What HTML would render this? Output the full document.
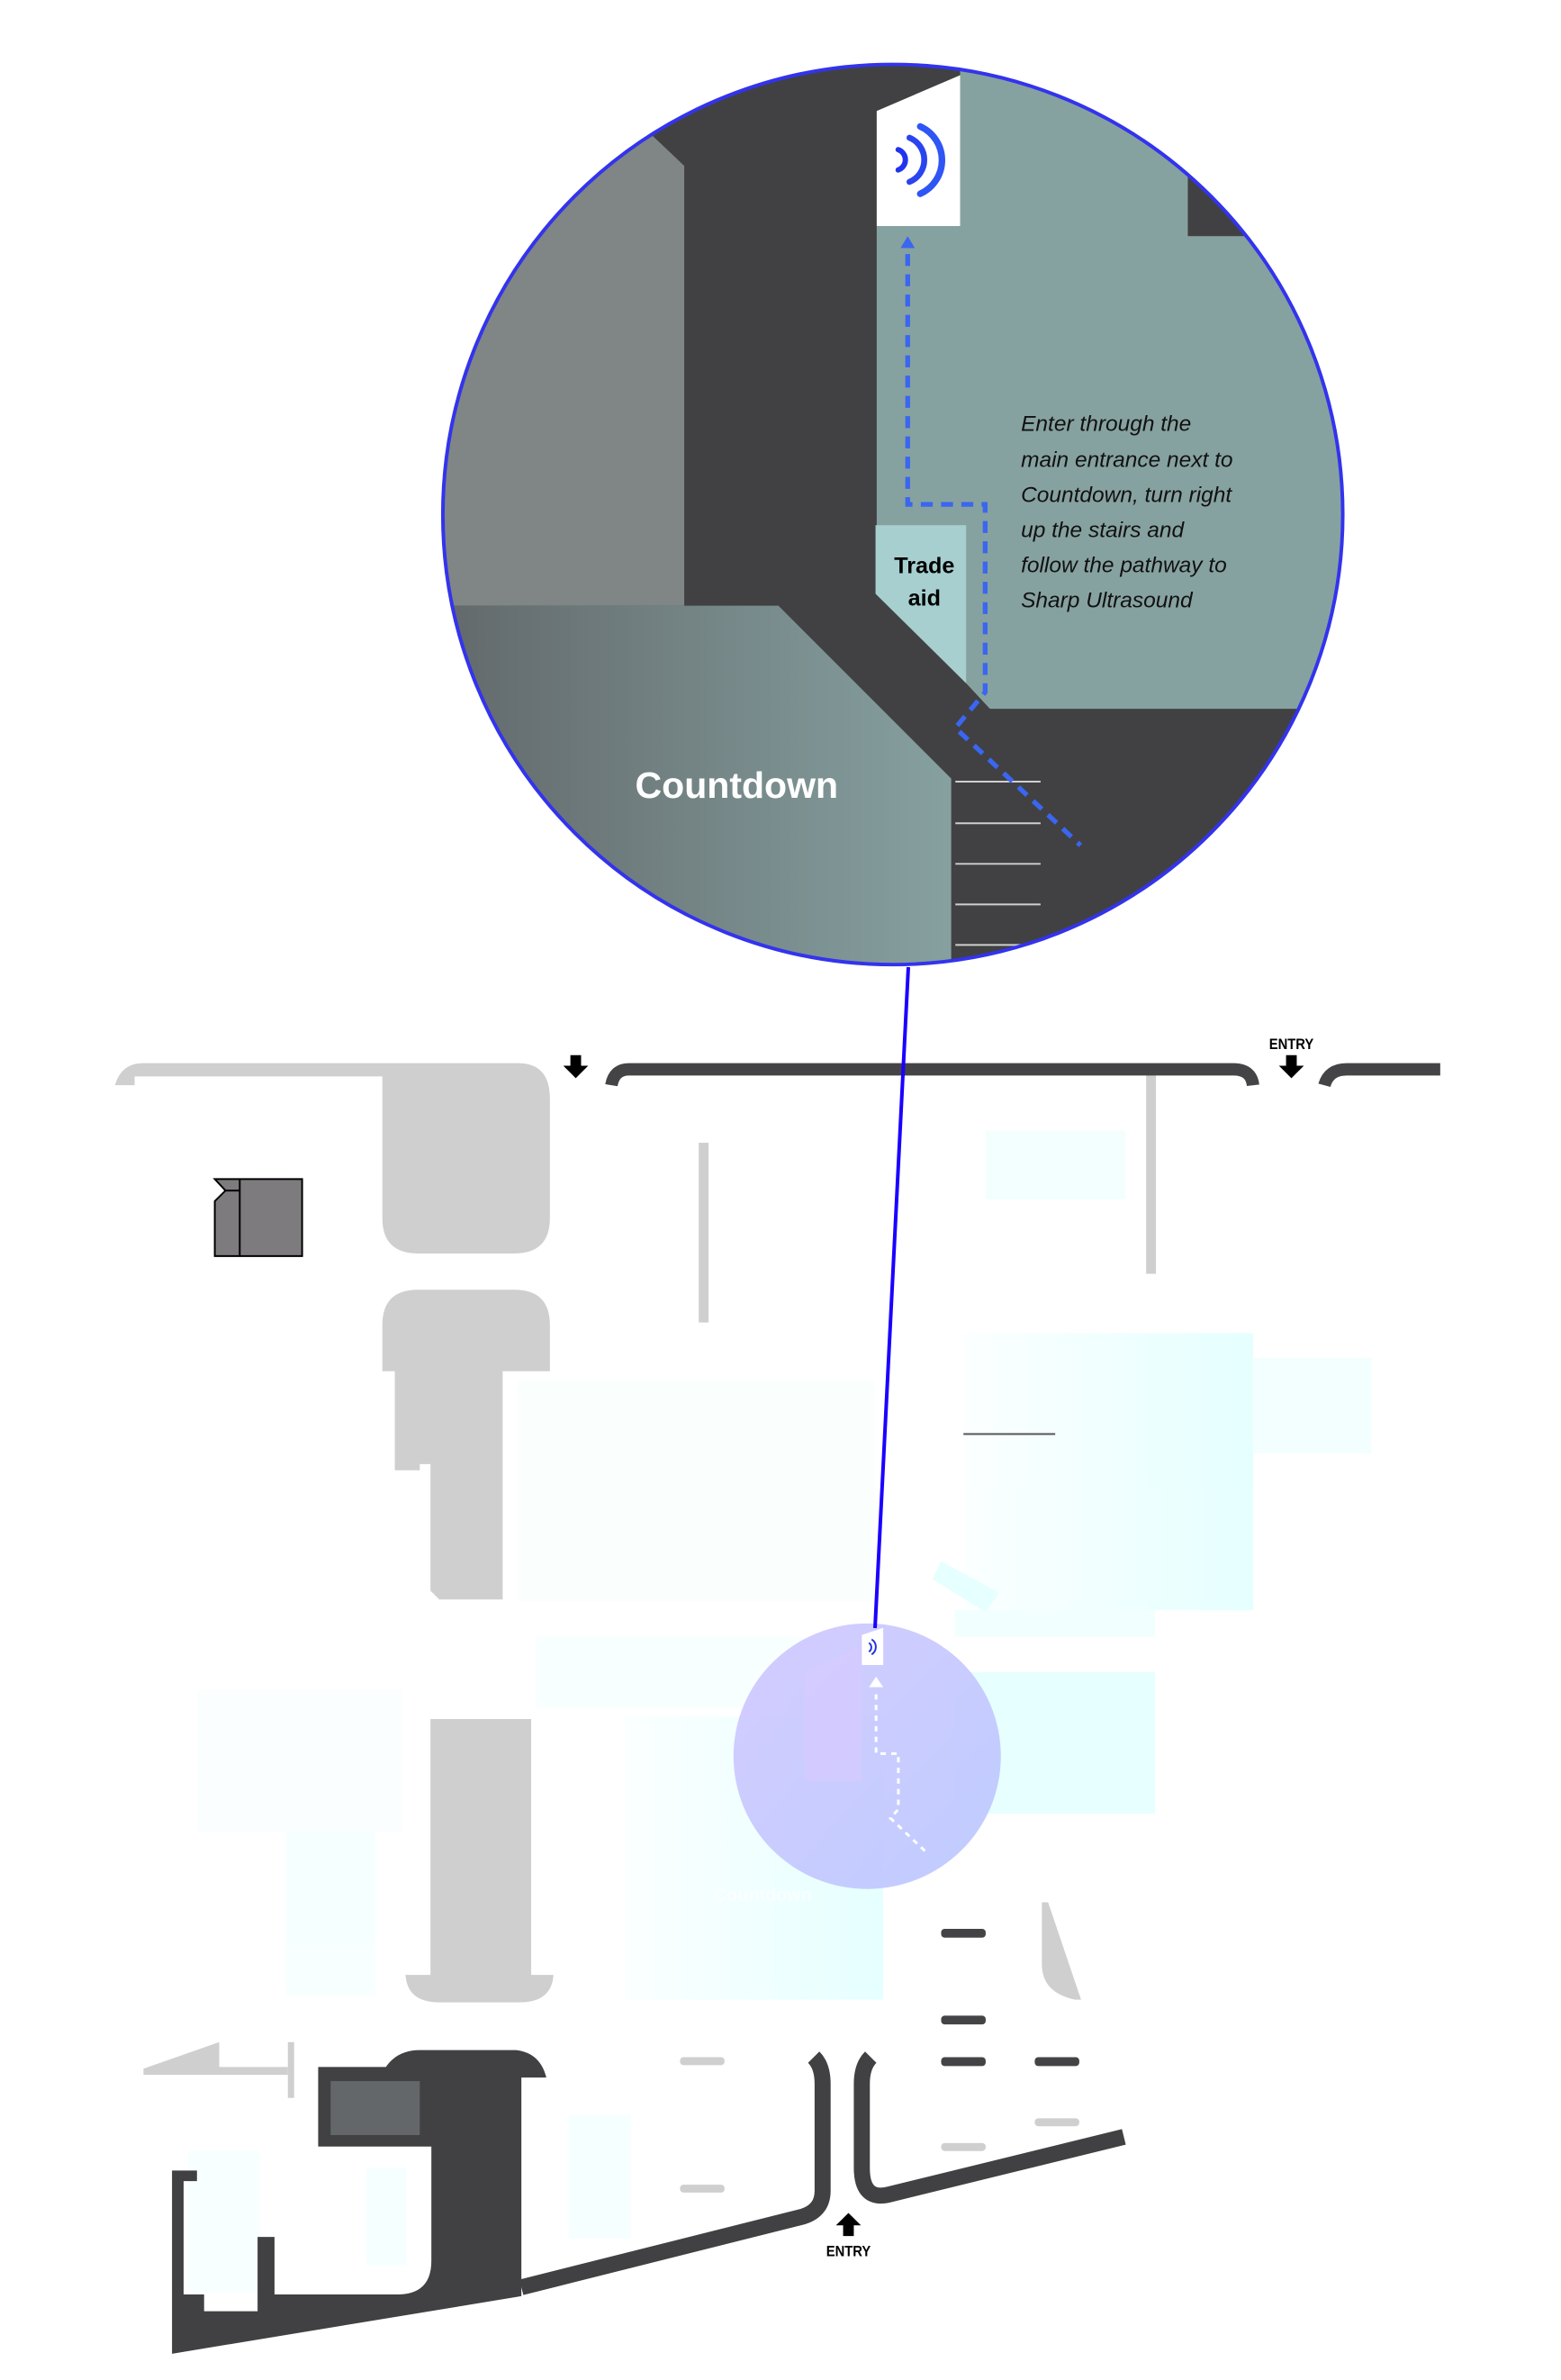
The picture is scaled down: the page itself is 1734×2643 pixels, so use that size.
<!DOCTYPE html>
<html><head><meta charset="utf-8"><style>html,body{margin:0;padding:0;background:#fff}svg{display:block}</style></head>
<body>
<svg width="1734" height="2643" viewBox="0 0 1734 2643" xmlns="http://www.w3.org/2000/svg">
<defs>
<clipPath id="bc"><circle cx="767" cy="777" r="755"/></clipPath>
<linearGradient id="cd" x1="0" x2="1" y1="0" y2="0"><stop offset="0" stop-color="#62686a"/><stop offset="1" stop-color="#86a0a0"/></linearGradient>
<linearGradient id="pc" x1="0" x2="1" y1="0" y2="1"><stop offset="0" stop-color="#d2c9ff"/><stop offset="1" stop-color="#bccaff"/></linearGradient>
<linearGradient id="cy" x1="0" x2="1"><stop offset="0" stop-color="#fbffff"/><stop offset="1" stop-color="#e3ffff"/></linearGradient>
</defs>

<g transform="translate(100,1100) scale(0.99,0.983)">
  <g opacity="0.9">
    <rect x="1005" y="158" width="157" height="78" fill="#f2ffff"/>
    <rect x="980" y="387" width="325" height="313" fill="url(#cy)"/>
    <rect x="1305" y="415" width="133" height="108" fill="#f2ffff"/>
    <rect x="970" y="700" width="225" height="30" fill="#f0ffff"/>
    <rect x="970" y="770" width="225" height="160" fill="#e4ffff"/>
    <rect x="480" y="440" width="400" height="250" fill="#fafffe"/>
    <rect x="600" y="820" width="290" height="320" fill="url(#cy)"/>
    <rect x="120" y="790" width="230" height="160" fill="#fafeff"/>
    <rect x="220" y="950" width="100" height="185" fill="#f6ffff"/>
    <rect x="500" y="730" width="300" height="80" fill="#f8ffff"/>
    <polygon points="955,645 1020,680 1005,702 945,665" fill="#e4ffff"/>
    <rect x="537" y="1270" width="70" height="140" fill="#f5ffff"/>
    <rect x="310" y="1330" width="45" height="110" fill="#f5ffff"/>
    <rect x="110" y="1310" width="80" height="160" fill="#f7ffff"/>
  </g>
  <path d="M28,107 Q35,82 60,82 L480,82 Q516,82 516,122 L516,257 Q516,297 476,297 L368,297 Q328,297 328,257 L328,97 L50,97 L50,107 Z" fill="#cfcfcf"/>
  <path d="M328,430 L328,378 Q328,338 368,338 L476,338 Q516,338 516,378 L516,430 L463,430 L463,688 L392,688 L382,678 L382,535 L370,535 L370,542 L342,542 L342,430 Z" fill="#cfcfcf"/>
  <path d="M382,823 L495,823 L495,1112 L520,1112 Q518,1143 482,1143 L392,1143 Q356,1143 354,1112 L382,1112 Z" fill="#cfcfcf"/>
  <rect x="683" y="172" width="11" height="203" fill="#cfcfcf"/>
  <rect x="1185" y="95" width="11" height="225" fill="#cfcfcf"/>
  <line x1="980" y1="501" x2="1083" y2="501" stroke="#555" stroke-width="2"/>
  <path d="M140,300 L140,238 L152,226 L140,213 L238,213 L238,300 Z" fill="#7d7b7d" stroke="#000" stroke-width="2"/>
  <line x1="168" y1="213" x2="168" y2="300" stroke="#000" stroke-width="2"/>
  <line x1="152" y1="226" x2="168" y2="226" stroke="#000" stroke-width="2"/>
  <path d="M585,107 Q588,89 605,89 L1283,89 Q1303,89 1305,107" fill="none" stroke="#444446" stroke-width="14"/>
  <path d="M1385,107 Q1390,89 1410,89 L1515,89" fill="none" stroke="#444446" stroke-width="14"/>
  <path d="M539,73 h12 v12 h8 l-14,14 l-14,-14 h8 z" fill="#000"/>
  <path d="M1342,73 h12 v12 h8 l-14,14 l-14,-14 h8 z" fill="#000"/>
  <text x="1348" y="66" font-family="Liberation Sans, sans-serif" font-weight="bold" font-size="17" text-anchor="middle" textLength="50" lengthAdjust="spacingAndGlyphs">ENTRY</text>
  <rect x="955" y="1060" width="50" height="10" rx="4" fill="#444446"/>
  <rect x="955" y="1158" width="50" height="10" rx="4" fill="#444446"/>
  <rect x="955" y="1205" width="50" height="10" rx="4" fill="#444446"/>
  <rect x="1060" y="1205" width="50" height="10" rx="4" fill="#444446"/>
  <rect x="955" y="1302" width="50" height="9" rx="4" fill="#cfcfcf"/>
  <rect x="1060" y="1274" width="50" height="9" rx="4" fill="#cfcfcf"/>
  <rect x="662" y="1205" width="50" height="9" rx="4" fill="#cfcfcf"/>
  <rect x="662" y="1349" width="50" height="9" rx="4" fill="#cfcfcf"/>
  <path d="M1068,1030 L1075,1030 L1112,1140 L1105,1140 Q1068,1132 1068,1100 Z" fill="#cfcfcf"/>
  <polygon points="60,1218 145,1188 145,1216 222,1216 222,1225 60,1225" fill="#cfcfcf"/>
  <rect x="222" y="1188" width="7" height="63" fill="#cfcfcf"/>
  <path d="M92,1333 L120,1333 L120,1345 L105,1345 L105,1473 L128,1473 L128,1492 L188,1492 L188,1408 L207,1408 L207,1473 L345,1473 Q383,1473 383,1435 L383,1306 L256,1306 L256,1216 L332,1216 Q345,1197 370,1197 L478,1197 Q505,1200 512,1228 L484,1228 L484,1455 L484,1475 L92,1540 Z" fill="#414143"/>
  <rect x="270" y="1232" width="100" height="61" fill="#636769"/>
  <path d="M484,1465 L800,1385 Q822,1378 822,1356 L822,1235 Q822,1215 812,1205" fill="none" stroke="#414143" stroke-width="18"/>
  <path d="M1160,1295 L897,1360 Q866,1368 866,1330 L866,1235 Q866,1215 876,1205" fill="none" stroke="#414143" stroke-width="18"/>
  <path d="M845,1407 h12 v-12 h8 l-14,-14 l-14,14 h8 z" fill="#000"/>
  <text x="851" y="1430" font-family="Liberation Sans, sans-serif" font-weight="bold" font-size="17" text-anchor="middle" textLength="50" lengthAdjust="spacingAndGlyphs">ENTRY</text>
  <circle cx="872" cy="865" r="150" fill="url(#pc)" opacity="0.95"/>
  <polygon points="802,770 866,740 866,893 802,893" fill="#d4caff" opacity="0.8"/>
  <polygon points="866,728 890,720 890,762 866,762" fill="#fff"/>
  <path d="M874,737 a6,6 0 0 1 0,10 M877,733 a10,10 0 0 1 0,17" fill="none" stroke="#2233dd" stroke-width="2"/>
  <polygon points="874,787 882,775 890,787" fill="#fff"/>
  <path d="M882,795 L882,862 L907,862 L907,925 L898,935 L940,975" fill="none" stroke="#fff" stroke-width="3" stroke-dasharray="6,6"/>
  <text x="700" y="1028" font-family="Liberation Sans, sans-serif" font-weight="bold" font-size="20" fill="#fff" opacity="0.7">Countdown</text>
</g>

<line x1="1009" y1="1074" x2="972" y2="1808" stroke="#1a00ff" stroke-width="4"/>

<g transform="translate(484,57) scale(0.662)">
  <g clip-path="url(#bc)">
    <rect x="0" y="0" width="1560" height="1560" fill="#414143"/>
    <polygon points="0,0 300,0 362,140 417,192 417,930 0,930" fill="#7f8685"/>
    <polygon points="0,930 575,930 865,1220 865,1600 0,1600" fill="url(#cd)"/>
    <polygon points="880,0 1600,0 1600,1103 930,1103 890,1060 740,910 740,293 880,293" fill="#86a2a0"/>
    <rect x="1262" y="150" width="200" height="160" fill="#414143"/>
    <polygon points="738,795 890,795 890,1060 738,910" fill="#a7cfcf"/>
    <polygon points="740,100 880,40 880,293 740,293" fill="#fff"/>
    <g stroke="#cfcfcf" stroke-width="3">
      <line x1="872" y1="1225" x2="1015" y2="1225"/><line x1="872" y1="1295" x2="1015" y2="1295"/>
      <line x1="872" y1="1363" x2="1015" y2="1363"/><line x1="872" y1="1431" x2="1015" y2="1431"/>
      <line x1="872" y1="1499" x2="1015" y2="1499"/>
    </g>
  </g>
  <circle cx="767" cy="777" r="755" fill="none" stroke="#3333ee" stroke-width="6"/>
  <g fill="none" stroke-linecap="round">
    <path d="M776,165 a18,18 0 0 1 0,34" stroke="#2233ee" stroke-width="9"/>
    <path d="M795,145 a40,40 0 0 1 0,74" stroke="#2a44f0" stroke-width="10"/>
    <path d="M813,126 a62,62 0 0 1 0,113" stroke="#2f55f5" stroke-width="11"/>
  </g>
  <polygon points="780,330 792,310 804,330" fill="#3a66f0"/>
  <path d="M792,340 L792,760 L922,760 L922,1075 L872,1135 L1082,1332" fill="none" stroke="#3a66f0" stroke-width="8" stroke-dasharray="20,14"/>
  <text font-family="Liberation Sans, sans-serif" font-style="italic" font-size="37" fill="#111">
    <tspan x="982" y="637">Enter through the</tspan>
    <tspan x="982" y="697">main entrance next to</tspan>
    <tspan x="982" y="756">Countdown, turn right</tspan>
    <tspan x="982" y="815">up the stairs and</tspan>
    <tspan x="982" y="874">follow the pathway to</tspan>
    <tspan x="982" y="933">Sharp Ultrasound</tspan>
  </text>
  <text font-family="Liberation Sans, sans-serif" font-weight="bold" font-size="38" fill="#000" text-anchor="middle">
    <tspan x="820" y="875">Trade</tspan><tspan x="820" y="930">aid</tspan>
  </text>
  <text x="505" y="1252" font-family="Liberation Sans, sans-serif" font-weight="bold" font-size="62" fill="#fff" text-anchor="middle">Countdown</text>
</g>
</svg>
</body></html>
